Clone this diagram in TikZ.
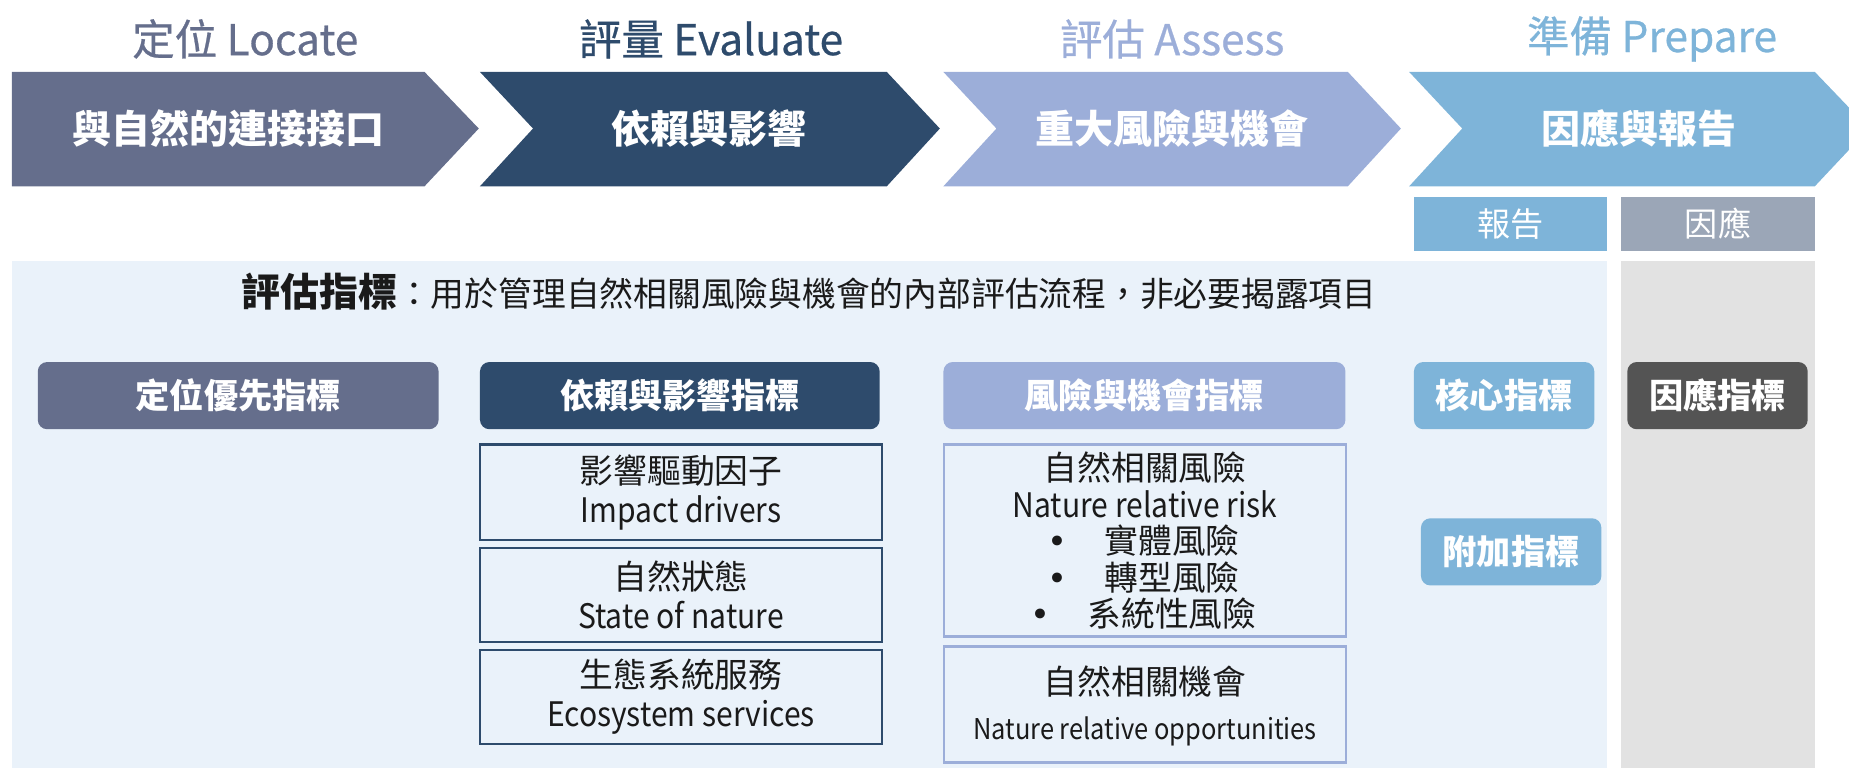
\documentclass[tikz,border=0pt]{standalone}
\usepackage{fontspec}
\setmainfont{Noto Sans CJK TC}
\newfontfamily\narrowlatin[FakeStretch=0.89]{Noto Sans CJK TC}
\newfontfamily\titlefont[FakeBold=0.6]{Noto Sans CJK TC}
\newfontfamily\dotfont{DejaVu Sans}
\definecolor{locate}{HTML}{656E8C}
\definecolor{evaluate}{HTML}{2E4B6C}
\definecolor{assess}{HTML}{9CAED9}
\definecolor{prepare}{HTML}{7EB4D9}
\definecolor{panelbg}{HTML}{EAF2FA}
\definecolor{respbg}{HTML}{E2E2E2}
\definecolor{resptab}{HTML}{9BA6B7}
\definecolor{respbox}{HTML}{545454}
\definecolor{ink}{HTML}{1A1A1A}
\newcommand{\itembullet}{\makebox[0.4em]{\dotfont •}\hspace{1.2em}}

\tikzset{
  phase/.style={font=\fontsize{20.5}{24}\selectfont\titlefont, text=#1},
  chevron/.style={font=\fontsize{18.8}{22}\selectfont\bfseries, text=white},
  tab/.style={fill=#1, text=white, inner sep=0pt, minimum width=3.28cm,
    minimum height=0.92cm, font=\fontsize{16}{18}\selectfont},
  head/.style={fill=#1, text=white, rounded corners=0.16cm, inner sep=0pt,
    minimum height=1.14cm, font=\fontsize{16.5}{18}\selectfont\bfseries},
  item/.style={draw=#1, line width=1.2pt, inner sep=0pt, minimum width=6.82cm,
    align=center, text=ink, font=\fontsize{16.3}{18.8}\selectfont},
}

\begin{document}
\begin{tikzpicture}[x=0.02cm, y=-0.02cm]
  \useasboundingbox (0,0) rectangle (1568,651);
  \clip (0,0) rectangle (1568,651);

  % phase titles
  \node[phase=locate] (tLocate) at (208,33) {定位 Locate};
  \node[phase=evaluate] (tEvaluate) at (603,33) {評量 Evaluate};
  \node[phase=assess] (tAssess) at (994,33) {評估 Assess};
  \node[phase=prepare] (tPrepare) at (1401,33) {準備 Prepare};

  % chevrons
  \fill[locate] (10,61) -- (360,61) -- (406,109) -- (360,158) -- (10,158) -- cycle;
  \fill[evaluate] (407,61) -- (752,61) -- (797,109) -- (752,158) -- (407,158) -- (452,109) -- cycle;
  \fill[assess] (800,61) -- (1143,61) -- (1188,109) -- (1143,158) -- (800,158) -- (845,109) -- cycle;
  \fill[prepare] (1195,61) -- (1539,61) -- (1585,109) -- (1539,158) -- (1195,158) -- (1240,109) -- cycle;
  \node[chevron] (cLocate) at (194,109) {與自然的連接接口};
  \node[chevron] (cEvaluate) at (601,109) {依賴與影響};
  \node[chevron] (cAssess) at (994,109) {重大風險與機會};
  \node[chevron] (cPrepare) at (1390,109) {因應與報告};

  % report / response tabs
  \node[tab=prepare] (tabReport) at (1281,190) {報告};
  \node[tab=resptab] (tabResp) at (1457,190) {因應};

  % background panels
  \fill[panelbg] (10,221) rectangle (1363,651);
  \fill[respbg] (1375,221) rectangle (1539,651);

  \node[text=ink, font=\fontsize{16.3}{18}\selectfont] (note) at (686,247)
    {{\fontsize{18.8}{20}\selectfont\bfseries 評估指標}：用於管理自然相關風險與機會的內部評估流程，非必要揭露項目};

  % metric headers
  \node[head=locate, minimum width=6.8cm] (hLocate) at (202,335.5) {定位優先指標};
  \node[head=evaluate, minimum width=6.78cm] (hEvaluate) at (576.5,335.5) {依賴與影響指標};
  \node[head=assess, minimum width=6.82cm] (hAssess) at (970.5,335.5) {風險與機會指標};
  \node[head=prepare, minimum width=3.06cm] (hCore) at (1275.5,335.5) {核心指標};
  \node[head=respbox, minimum width=3.06cm] (hResp) at (1456.5,335.5) {因應指標};
  \node[head=prepare, minimum width=3.06cm] (hExtra) at (1281.5,468) {附加指標};

  % dependency and impact items
  \node[item=evaluate, minimum height=1.62cm] (drivers) at (577.5,417.5)
    {影響驅動因子\\{\narrowlatin Impact drivers}};
  \node[item=evaluate, minimum height=1.6cm] (state) at (577.5,504.5)
    {自然狀態\\{\narrowlatin State of nature}};
  \node[item=evaluate, minimum height=1.6cm] (services) at (577.5,591)
    {生態系統服務\\{\narrowlatin Ecosystem services}};

  % risk and opportunity items
  \node[item=assess, line width=1.4pt, minimum height=3.26cm,
    font=\fontsize{16.3}{17.6}\selectfont] (risk) at (971,458.5)
    {自然相關風險\\{\narrowlatin Nature relative risk}\\\itembullet 實體風險\\\itembullet 轉型風險\\\itembullet 系統性風險};
  \node[item=assess, line width=1.4pt, minimum height=1.98cm] (opportunity) at (971,597.5) {};
  \node[text=ink, font=\fontsize{16.3}{18}\selectfont] (oppZh) at (971,578) {自然相關機會};
  \node[text=ink, font=\fontsize{13.8}{16}\selectfont\narrowlatin] (oppEn) at (971,620.5) {Nature relative opportunities};
\end{tikzpicture}
\end{document}
